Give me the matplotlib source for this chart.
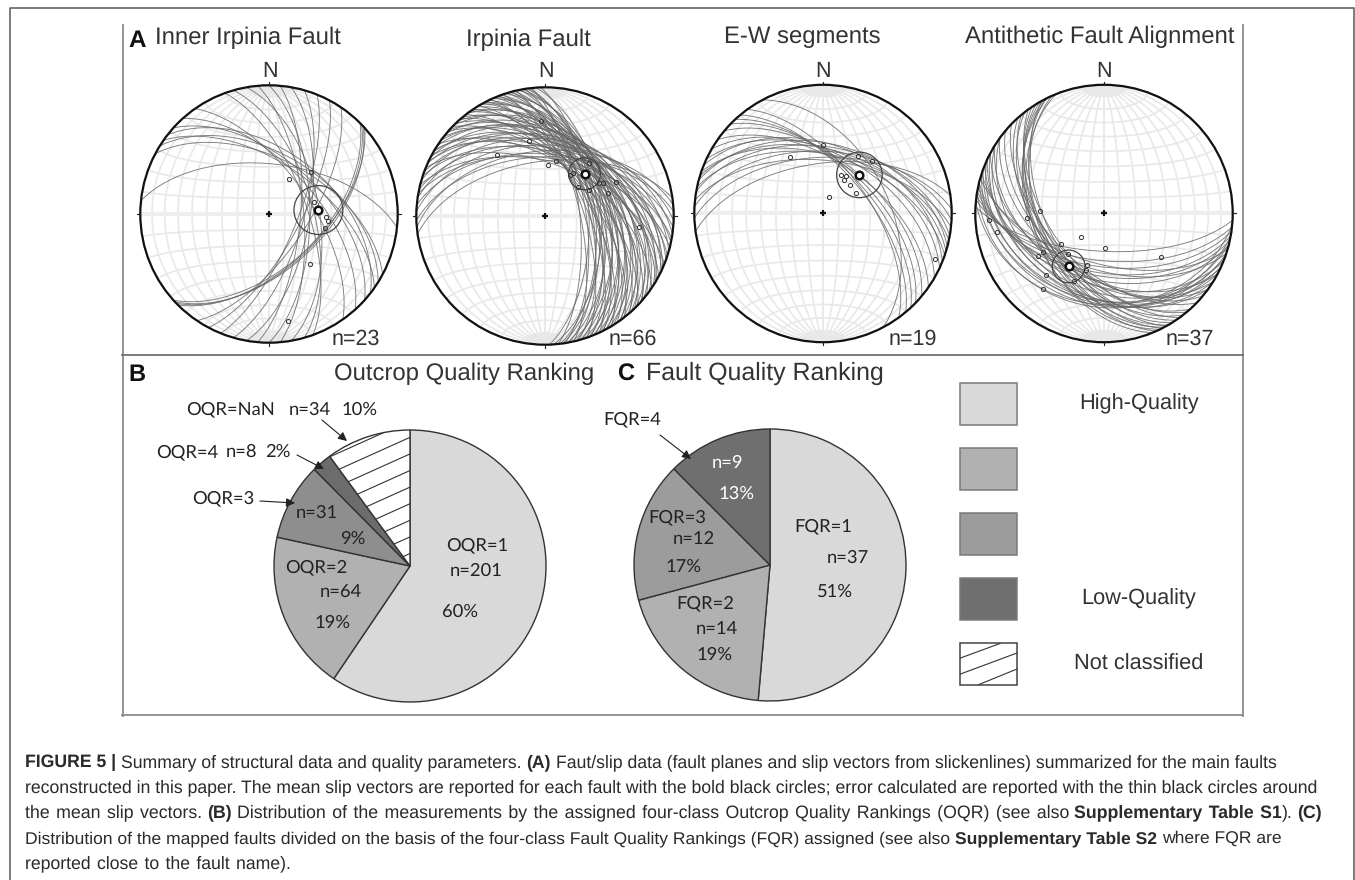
import numpy as np
import matplotlib
matplotlib.use('Agg')
import matplotlib.pyplot as plt
from matplotlib.patches import Circle, Rectangle

plt.rcParams['text.hinting'] = 'no_hinting'

W, H = 1355, 880

titles = ['Inner Irpinia Fault', 'Irpinia Fault', 'E-W segments', 'Antithetic Fault Alignment']
counts = ['n=23', 'n=66', 'n=19', 'n=37']

inner_dipdir = [70, 74, 80, 85, 90, 95, 100, 106, 112, 118, 28, 32, 35, 38, 42, 48, 55, 135, 136, 137, 138, 124, 6]
inner_dip = [66, 62, 58, 68, 64, 70, 64, 68, 72, 70, 55, 52, 58, 50, 56, 60, 64, 57, 56, 55, 57, 66, 58]
irpinia_dipdir = [352, 355, 358, 2, 5, 8, 10, 12, 14, 16, 18, 20, 22, 24, 25, 27, 28, 30, 31, 33, 34, 36,
                  38, 40, 41, 42, 44, 45, 46, 48, 49, 50, 52, 53, 54, 55, 56, 58, 59, 60, 61, 62, 63, 64,
                  65, 66, 67, 68, 69, 70, 71, 72, 73, 74, 75, 76, 77, 78, 79, 80, 81, 82, 83, 84, 86, 88]
irpinia_dip = [55, 48, 52, 44, 50, 40, 53, 46, 55, 38, 49, 43, 57, 41, 48, 36, 52, 44, 50, 38, 56, 42,
               47, 39, 53, 45, 58, 37, 50, 42, 55, 46, 60, 40, 52, 44, 57, 48, 62, 42, 54, 46, 60, 50,
               64, 44, 56, 48, 60, 52, 66, 46, 58, 50, 62, 55, 68, 48, 60, 52, 64, 56, 58, 68, 54, 62]
ew_dipdir = [352, 358, 3, 6, 10, 12, 15, 17, 19, 22, 25, 30, 35, 40, 44, 47, 50, 54, 62]
ew_dip = [58, 54, 50, 56, 47, 52, 45, 49, 53, 46, 50, 52, 57, 56, 58, 60, 62, 61, 48]
anti_dipdir = [183, 186, 188, 190, 192, 194, 196, 198, 185, 190, 194, 198, 202, 205, 208, 212, 216, 220, 224,
               228, 230, 232, 234, 236, 238, 240, 241, 242, 243, 244, 200, 204, 208, 212, 216, 246, 248]
anti_dip = [66, 60, 56, 52, 50, 47, 58, 54, 30, 28, 33, 30, 44, 40, 48, 46, 50, 52, 55,
            50, 53, 48, 56, 52, 50, 47, 54, 45, 50, 43, 34, 32, 36, 35, 38, 48, 44]

inner_slip_x = [.158, .327, .348, .446, .461, .432, .318, .149]
inner_slip_y = [.273, .326, .096, -.021, -.057, -.109, -.391, -.833]
irpinia_slip_x = [-.03, -.372, -.125, .024, .083, .193, .217, .342, .417, .452, .55, .491, .729, .342, .253]
irpinia_slip_y = [.737, .477, .581, .393, .43, .32, .333, .411, .26, .255, .268, .182, -.083, .203, .229]
ew_slip_x = [0, -.253, .269, .381, .136, .181, .163, .208, .253, .048, .867]
ew_slip_y = [.532, .442, .45, .411, .3, .295, .261, .222, .163, .132, -.354]
anti_slip_x = [-.501, -.595, -.893, -.835, -.181, .005, -.333, -.475, -.509, -.28, -.448, -.475, -.133, -.136, -.235, .44]
anti_slip_y = [.023, -.036, -.049, -.14, -.186, -.269, -.235, -.3, -.333, -.313, -.481, -.587, -.398, -.437, -.527, -.341]

mean_x = [.384, .307, .283, -.275]
mean_y = [.031, .328, .3, -.411]
error_r = [.19, .124, .177, .127]

# panels B and C
oqr_n = [201, 64, 31, 8, 34]
fqr_n = [37, 14, 12, 9]
oqr_colors = ['#d9d9d9', '#b1b1b1', '#8e8e8e', '#6c6c6c', 'white']
fqr_colors = ['#d9d9d9', '#b1b1b1', '#9c9c9c', '#6f6f6f']
legend_colors = ['#d9d9d9', '#b1b1b1', '#9c9c9c', '#6f6f6f', 'white']
legend_labels = ['High-Quality', '', '', 'Low-Quality', 'Not classified']


def px_axes(cx, cy, r):
    return fig.add_axes([(cx - r) / W, 1 - (cy + r) / H, 2 * r / W, 2 * r / H])


def great_circle(dipdir, dip):
    d, a = np.radians(dipdir), np.radians(dip)
    s = d - np.pi / 2
    t = np.linspace(0, np.pi, 181)
    e = np.cos(t) * np.sin(s) + np.sin(t) * np.cos(a) * np.sin(d)
    n = np.cos(t) * np.cos(s) + np.sin(t) * np.cos(a) * np.cos(d)
    z = np.sin(t) * np.sin(a)
    k = 1 / np.sqrt(1 + z)
    return e * k, n * k


def net_grid(ax):
    # equal-area net, poles at N and S
    for dip in range(0, 91, 10):
        for dd in (90, 270):
            x, y = great_circle(dd, dip)
            ax.plot(x, y, color='#e9e9e9', lw=1.25, zorder=1)
    for b in range(10, 180, 10):
        t = np.linspace(0, np.pi, 91)
        b_r = np.radians(b)
        e = np.sin(b_r) * np.cos(t)
        z = np.sin(b_r) * np.sin(t)
        n = np.cos(b_r) * np.ones_like(t)
        k = 1 / np.sqrt(1 + z)
        ax.plot(e * k, n * k, color='#e9e9e9', lw=1.25, zorder=1)
    # fine meridians close to the poles
    for dip in range(0, 91, 2):
        for dd in (90, 270):
            x, y = great_circle(dd, dip)
            for part in (slice(0, 11), slice(170, 181)):
                ax.plot(x[part], y[part], color='#e8e8e8', lw=0.4, zorder=1)
    ax.plot([-1, 1], [0, 0], color='#eeeeee', lw=3, zorder=1)


def stereonet(cx, cy, dipdir, dip, sx, sy, mx, my, er):
    ax = px_axes(cx, cy, 134)
    lim = 134 / 128.7
    net_grid(ax)
    clip = Circle((0, 0), 1, transform=ax.transData)
    for dd, a in zip(dipdir, dip):
        x, y = great_circle(dd, a)
        ax.plot(x, y, color='#666666', lw=0.65, alpha=0.85, zorder=2, clip_path=clip)
    ax.add_patch(Circle((mx, my), er, fill=False, ec='#444444', lw=0.9, zorder=3))
    ax.plot(sx, sy, 'o', ms=3, mfc='none', mec='#333333', mew=0.7, zorder=4)
    ax.plot(mx, my, 'o', ms=5.5, mfc='white', mec='#111111', mew=1.8, zorder=5)
    ax.add_patch(Circle((0, 0), 1, fill=False, ec='#111111', lw=1.6, zorder=6))
    ax.plot(0, 0, '+', ms=5, mew=1.6, color='#111111', zorder=6)
    for px, py in [(0, 1), (0, -1), (1, 0), (-1, 0)]:
        ax.plot([px, px * 1.025], [py, py * 1.025], color='#222222', lw=0.8, zorder=6)
    ax.set_xlim(-lim, lim)
    ax.set_ylim(-lim, lim)
    ax.axis('off')


def pie_chart(cx, cy, r, values, colors):
    ax = px_axes(cx, cy, r + 2)
    wedges, _ = ax.pie(values, colors=colors, startangle=90, counterclock=False, radius=1,
                       wedgeprops=dict(ec='#333333', lw=1.0))
    lim = (r + 2) / r
    ax.set_xlim(-lim, lim)
    ax.set_ylim(-lim, lim)
    ax.axis('off')
    return ax, wedges


fig = plt.figure(figsize=(W / 100, H / 100), dpi=100, facecolor='white')

stereonet(269, 214, inner_dipdir, inner_dip, inner_slip_x, inner_slip_y, mean_x[0], mean_y[0], error_r[0])
stereonet(545, 216, irpinia_dipdir, irpinia_dip, irpinia_slip_x, irpinia_slip_y, mean_x[1], mean_y[1], error_r[1])
stereonet(823, 213.5, ew_dipdir, ew_dip, ew_slip_x, ew_slip_y, mean_x[2], mean_y[2], error_r[2])
stereonet(1104, 213.5, anti_dipdir, anti_dip, anti_slip_x, anti_slip_y, mean_x[3], mean_y[3], error_r[3])

ax_b, wedges_b = pie_chart(410, 566, 136, oqr_n, oqr_colors)
for y0 in np.arange(-.03, 1.1, .122):
    line, = ax_b.plot([-1, 0], [y0 - .45, y0], color='#333333', lw=0.8, zorder=3)
    line.set_clip_path(wedges_b[4])
pie_chart(770, 565, 136, fqr_n, fqr_colors)

# overlay in image pixels for frame, labels, legend
ov = fig.add_axes([0, 0, 1, 1], facecolor='none')
ov.set_xlim(0, W)
ov.set_ylim(H, 0)
ov.axis('off')

outer = '#666666'
ov.plot([9.5, 9.5, 1354, 1354], [880, 8.5, 8.5, 880], color=outer, lw=1.2)
frame = '#8a8a8a'
ov.plot([122.5, 122.5], [25, 716], color=frame, lw=1.3)
ov.plot([1243, 1243], [25, 716], color=frame, lw=1.3)
ov.plot([122, 1243], [355.5, 355.5], color='#666666', lw=1.2)
ov.plot([122, 1243], [715.5, 715.5], color=frame, lw=1.3)

sans = 'Liberation Sans'
dark = '#333333'
ov.text(128, 47, 'A', fontsize=17.5, fontweight='bold', family=sans, color='#111111')
ov.text(128, 381, 'B', fontsize=17, fontweight='bold', family=sans, color='#111111')
ov.text(617, 381, 'C', fontsize=17, fontweight='bold', family=sans, color='#111111')
title_x = [155, 466, 724, 965]
title_y = [44, 46, 43, 43]
for x, y, s in zip(title_x, title_y, titles):
    ov.text(x, y, s, fontsize=17.2, family=sans, color=dark)
for x in [270, 546, 823, 1104]:
    ov.text(x, 71, 'N', fontsize=15.5, family=sans, color=dark, va='center', ha='center')
for x, s in zip([332, 609, 889, 1166], counts):
    ov.text(x, 339, s, fontsize=15.5, family=sans, color=dark, va='center')
ov.text(334, 380, 'Outcrop Quality Ranking', fontsize=17.2, family=sans, color=dark)
ov.text(646, 380, 'Fault Quality Ranking', fontsize=17.9, family=sans, color=dark)

pie_font = 'Lato'
pie_labels = [
    (231, 409, 'OQR=NaN'), (310, 410, 'n=34'), (360, 410, '10%'),
    (187, 452, 'OQR=4'), (241, 452, 'n=8'), (278, 452, '2%'),
    (223, 498, 'OQR=3'), (317, 513, 'n=31'), (353, 539, '9%'),
    (316, 567, 'OQR=2'), (341, 593, 'n=64'), (333, 623, '19%'),
    (477, 545, 'OQR=1'), (476, 571, 'n=201'), (460, 612, '60%'),
    (632, 419, 'FQR=4'), (677, 517, 'FQR=3'), (694, 539, 'n=12'), (684, 567, '17%'),
    (823, 526, 'FQR=1'), (848, 558, 'n=37'), (835, 592, '51%'),
    (705, 603, 'FQR=2'), (717, 629, 'n=14'), (715, 655, '19%'),
]
for x, y, s in pie_labels:
    ov.text(x, y, s, fontsize=13.2, family=pie_font, color='#222222', ha='center', va='center')
ov.text(727, 463, 'n=9', fontsize=13.2, family=pie_font, color='white', ha='center', va='center')
ov.text(737, 494, '13%', fontsize=13.2, family=pie_font, color='white', ha='center', va='center')

arrows = [((322, 420), (347, 441)), ((297, 455), (324, 469)), ((260, 501), (295, 503)), ((660, 435), (691, 459))]
for a, b in arrows:
    ov.annotate('', xy=b, xytext=a,
                arrowprops=dict(arrowstyle='-|>', color='#222222', lw=0.8, mutation_scale=13,
                                shrinkA=0, shrinkB=0))

legend_tops = [383, 448, 513, 578, 643]
for top, c, s in zip(legend_tops, legend_colors, legend_labels):
    ov.add_patch(Rectangle((960, top), 57, 42, fc=c, ec='#7a7a7a' if c != 'white' else '#444444', lw=1.1))
    if s:
        ov.text(1139, top + 21, s, fontsize=15.7, family=sans, color=dark, ha='center', va='center')
ov.plot([960.5, 1000], [658, 643.5], color='#333333', lw=0.8)
ov.plot([960.5, 1017], [674, 653], color='#333333', lw=0.8)
ov.plot([979, 1017], [684.5, 669], color='#333333', lw=0.8)

# caption, one text per run, font size fitted so each line ends where the reference does
caption = [
    [('FIGURE 5 |', True), ('Summary of structural data and quality parameters.', False), ('(A)', True),
     ('Faut/slip data (fault planes and slip vectors from slickenlines) summarized for the main faults', False)],
    [('reconstructed in this paper. The mean slip vectors are reported for each fault with the bold black circles; error calculated are reported with the thin black circles around', False)],
    [('the mean slip vectors.', False), ('(B)', True),
     ('Distribution of the measurements by the assigned four-class Outcrop Quality Rankings (OQR) (see also', False),
     ('Supplementary Table S1', True), ('). ', False), ('(C)', True)],
    [('Distribution of the mapped faults divided on the basis of the four-class Fault Quality Rankings (FQR) assigned (see also', False),
     ('Supplementary Table S2', True), ('where FQR are', False)],
    [('reported close to the fault name).', False)],
]
caption_y = [767, 792, 817, 843, 868]
caption_right = [1280, 1322.5, 1322.5, 1280, 291]
loose_lines = [2, 4]  # set with wider word spacing in the reference
left_edge = 25
fs = 13
rend = fig.canvas.get_renderer()
for i, (runs, y, right) in enumerate(zip(caption, caption_y, caption_right)):
    artists = []
    for s, bold in runs:
        s = s.strip()
        if i in loose_lines:
            s = s.replace(' ', ' \u200a')
        artists.append(ov.text(left_edge, y, s, fontsize=fs, family=sans, color='#2a2a2a',
                               fontweight='bold' if bold else 'normal'))
    size = fs
    for _ in range(3):
        for a in artists:
            a.set_fontsize(size)
        widths = [a.get_window_extent(rend).width for a in artists]
        space = size * 100 / 72 * 0.278
        ngaps = len(artists) - 1 - sum(r[0].strip() == ').' for r in runs)
        total = sum(widths) + ngaps * space
        size *= (right - left_edge) / total
    x = left_edge
    for k, a in enumerate(artists):
        if runs[k][0].strip() == ').':
            x -= space
        a.set_x(x)
        x += widths[k] + space

fig.savefig('out.png', dpi=100)
